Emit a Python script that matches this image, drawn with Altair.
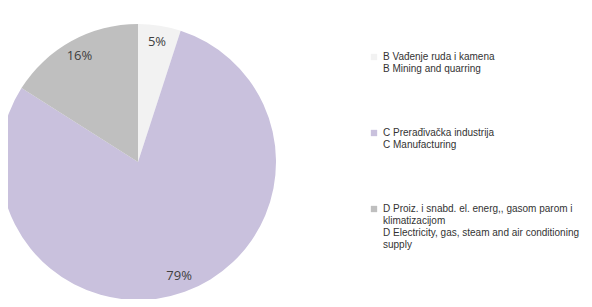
import altair as alt
import pandas as pd

categories = [
    "B Vađenje ruda i kamena|B Mining and quarring",
    "C Prerađivačka industrija|C Manufacturing",
    "D Proiz. i snabd. el. energ,, gasom parom i|klimatizacijom|D Electricity, gas, steam and air conditioning|supply",
]
values = [5, 79, 16]
labels = ["5%", "79%", "16%"]
colors = ["#f2f2f2", "#c9c1dd", "#bfbfbf"]

df = pd.DataFrame({"cat": categories, "val": values, "lab": labels, "ord": [0, 1, 2]})

cx, cy, R = 130, 154, 138

base = alt.Chart(df).encode(
    theta=alt.Theta("val:Q", stack=True),
    order=alt.Order("ord:Q"),
)

pie = base.mark_arc(outerRadius=R, strokeWidth=0).encode(
    x=alt.value(cx), y=alt.value(cy),
    color=alt.Color(
        "cat:N",
        scale=alt.Scale(domain=categories, range=colors),
        sort=categories,
        legend=alt.Legend(
            title=None,
            orient="none",
            legendX=361,
            legendY=44,
            symbolType="square",
            symbolSize=40,
            symbolStrokeWidth=0,
            labelExpr="split(datum.label, '|')",
            labelFont="Liberation Sans",
            labelFontSize=10,
            labelColor="#333333",
            labelLimit=300,
            rowPadding=54,
            labelOffset=4,
        ),
    ),
)

text = base.mark_text(radius=R * 0.88, font="Open Sans", fontSize=13, color="#404040").encode(
    x=alt.value(cx), y=alt.value(cy), text="lab:N"
)

chart = (pie + text).properties(
    width=576, height=291, padding=0, autosize=alt.AutoSizeParams(type="none")
).configure_view(stroke=None)

chart.save("out.html", embed_options={"renderer": "svg", "actions": False})
